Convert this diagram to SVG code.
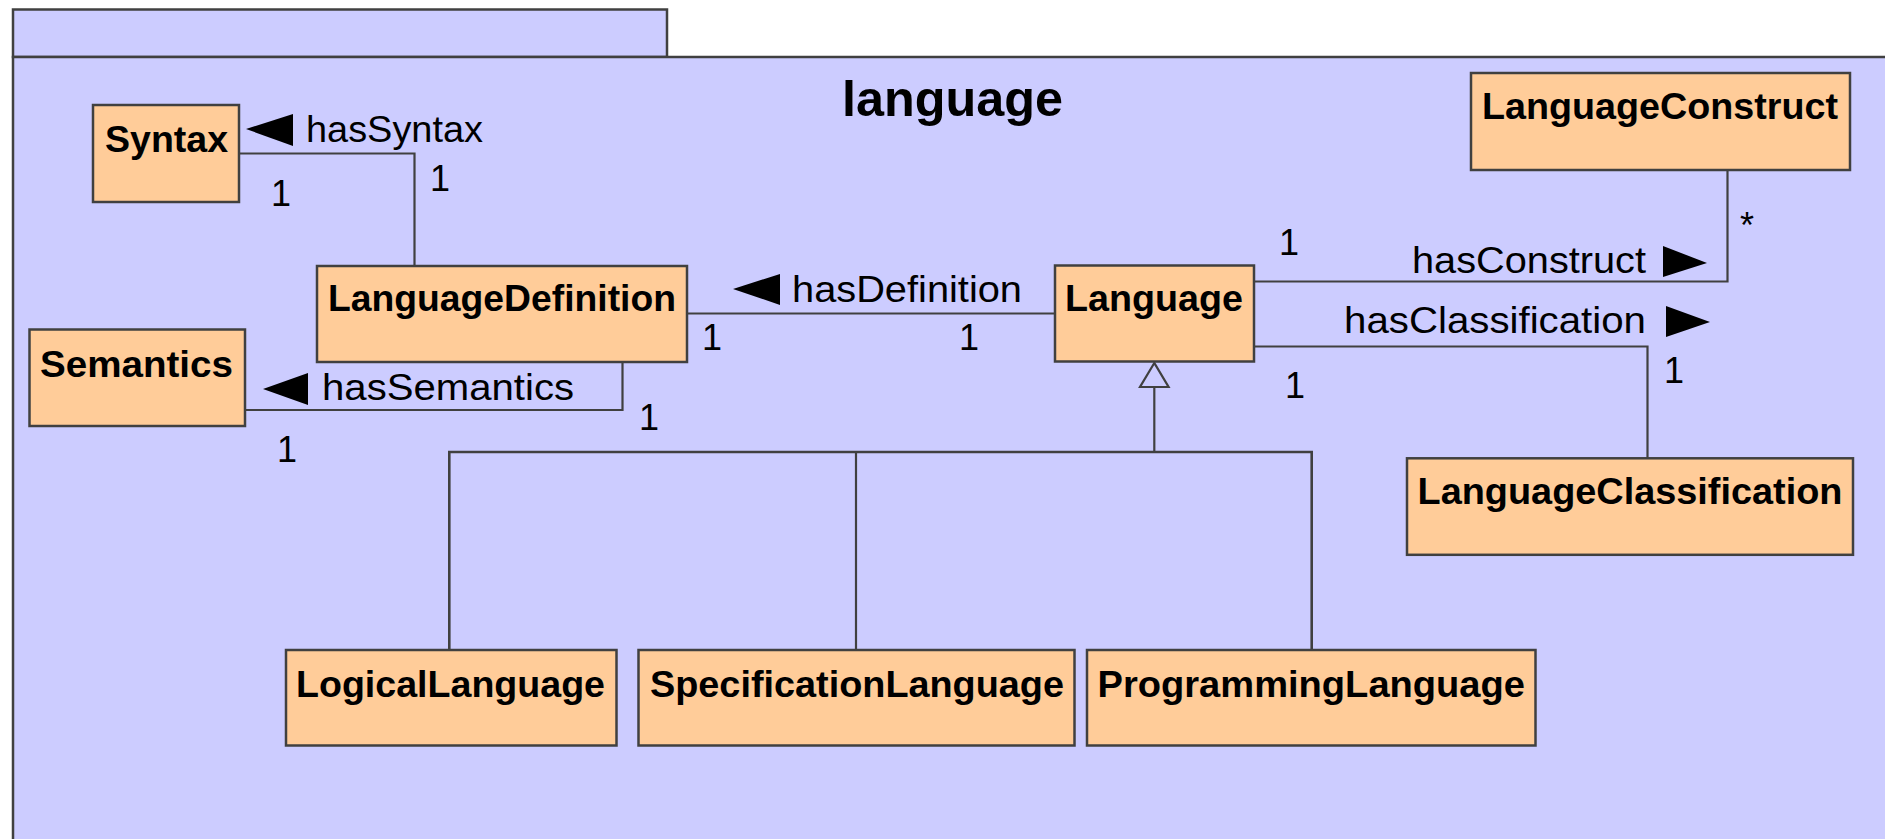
<svg xmlns="http://www.w3.org/2000/svg" width="1885" height="839" viewBox="0 0 1885 839">
<style>
.bg{fill:#FFFFFF}
.pkg{fill:#CCCCFF;stroke:#404040;stroke-width:2.5}
.cls{fill:#FFCC99;stroke:#404040;stroke-width:2.5}
.name{font-family:"Liberation Sans",Arial,sans-serif;font-weight:bold;font-size:37.7px;fill:#000}
.title{font-family:"Liberation Sans",Arial,sans-serif;font-weight:bold;font-size:50px;fill:#000}
.lbl{font-family:"Liberation Sans",Arial,sans-serif;font-size:37px;fill:#000}
.mult{font-family:"Liberation Sans",Arial,sans-serif;font-size:36px;fill:#000}
.ln{fill:none;stroke:#404040;stroke-width:2.2}
.arr{fill:#000}
.gen{fill:#CCCCFF;stroke:#404040;stroke-width:2.2}
</style>
<rect class="bg" x="0" y="0" width="1885" height="839"/>
<g id="package">
<rect class="pkg" x="13" y="9.5" width="654" height="47.5"/>
<rect class="pkg" x="13" y="57" width="1900" height="900"/>
<text class="title" x="842" y="116" textLength="221" lengthAdjust="spacingAndGlyphs">language</text>
</g>
<g id="connectors">
<!-- hasSyntax -->
<polyline class="ln" points="239,153.5 414.5,153.5 414.5,266"/>
<polygon class="arr" points="246,129 293,114 293,146"/>
<text class="lbl" x="306" y="142" textLength="177" lengthAdjust="spacingAndGlyphs">hasSyntax</text>
<text class="mult" x="271" y="206">1</text>
<text class="mult" x="430" y="191">1</text>
<!-- hasSemantics -->
<polyline class="ln" points="245,410 622.5,410 622.5,362"/>
<polygon class="arr" points="263,389 308,373 308,405"/>
<text class="lbl" x="322" y="400" textLength="252" lengthAdjust="spacingAndGlyphs">hasSemantics</text>
<text class="mult" x="277" y="462">1</text>
<text class="mult" x="639" y="430">1</text>
<!-- hasDefinition -->
<line class="ln" x1="687" y1="313.5" x2="1055" y2="313.5"/>
<polygon class="arr" points="733,289 780,274 780,305"/>
<text class="lbl" x="792" y="302" textLength="230" lengthAdjust="spacingAndGlyphs">hasDefinition</text>
<text class="mult" x="702" y="350">1</text>
<text class="mult" x="959" y="350">1</text>
<!-- hasConstruct -->
<polyline class="ln" points="1254,281.5 1727.5,281.5 1727.5,170"/>
<polygon class="arr" points="1663,246 1707,263 1663,277"/>
<text class="lbl" x="1412" y="273" textLength="234" lengthAdjust="spacingAndGlyphs">hasConstruct</text>
<text class="mult" x="1279" y="255">1</text>
<text class="mult" x="1740" y="238">*</text>
<!-- hasClassification -->
<polyline class="ln" points="1254,346.5 1647.5,346.5 1647.5,458"/>
<polygon class="arr" points="1666,306 1710,322 1666,337"/>
<text class="lbl" x="1344" y="333" textLength="302" lengthAdjust="spacingAndGlyphs">hasClassification</text>
<text class="mult" x="1285" y="398">1</text>
<text class="mult" x="1664" y="383">1</text>
<!-- generalization -->
<polyline class="ln" points="1154.3,387 1154.3,452"/>
<polyline class="ln" points="449.3,650 449.3,452 1311.7,452 1311.7,650" style="stroke-width:2.6"/>
<line class="ln" x1="856" y1="452" x2="856" y2="650"/>
<polygon class="gen" points="1154.3,363 1140,387 1168.6,387"/>
</g>
<g id="Syntax">
<rect class="cls" x="93" y="105" width="146" height="97"/>
<text class="name" x="105" y="152" textLength="123" lengthAdjust="spacingAndGlyphs">Syntax</text>
</g>
<g id="Semantics">
<rect class="cls" x="29.5" y="329.5" width="215.5" height="96.5"/>
<text class="name" x="40" y="377" textLength="193" lengthAdjust="spacingAndGlyphs">Semantics</text>
</g>
<g id="LanguageDefinition">
<rect class="cls" x="317" y="266" width="370" height="96"/>
<text class="name" x="328" y="311" textLength="348" lengthAdjust="spacingAndGlyphs">LanguageDefinition</text>
</g>
<g id="Language">
<rect class="cls" x="1055" y="265.5" width="199" height="96"/>
<text class="name" x="1065" y="311" textLength="178" lengthAdjust="spacingAndGlyphs">Language</text>
</g>
<g id="LanguageConstruct">
<rect class="cls" x="1471" y="73" width="379" height="97"/>
<text class="name" x="1482" y="119" textLength="356" lengthAdjust="spacingAndGlyphs">LanguageConstruct</text>
</g>
<g id="LanguageClassification">
<rect class="cls" x="1407" y="458.3" width="446" height="96.5"/>
<text class="name" x="1417.5" y="503.5" textLength="425" lengthAdjust="spacingAndGlyphs">LanguageClassification</text>
</g>
<g id="LogicalLanguage">
<rect class="cls" x="286" y="650" width="330.5" height="95.5"/>
<text class="name" x="296" y="696.5" textLength="309" lengthAdjust="spacingAndGlyphs">LogicalLanguage</text>
</g>
<g id="SpecificationLanguage">
<rect class="cls" x="638.5" y="650" width="436" height="95.5"/>
<text class="name" x="650" y="696.5" textLength="414" lengthAdjust="spacingAndGlyphs">SpecificationLanguage</text>
</g>
<g id="ProgrammingLanguage">
<rect class="cls" x="1087" y="650" width="448.5" height="95.5"/>
<text class="name" x="1097.5" y="696.5" textLength="427.5" lengthAdjust="spacingAndGlyphs">ProgrammingLanguage</text>
</g>
</svg>
